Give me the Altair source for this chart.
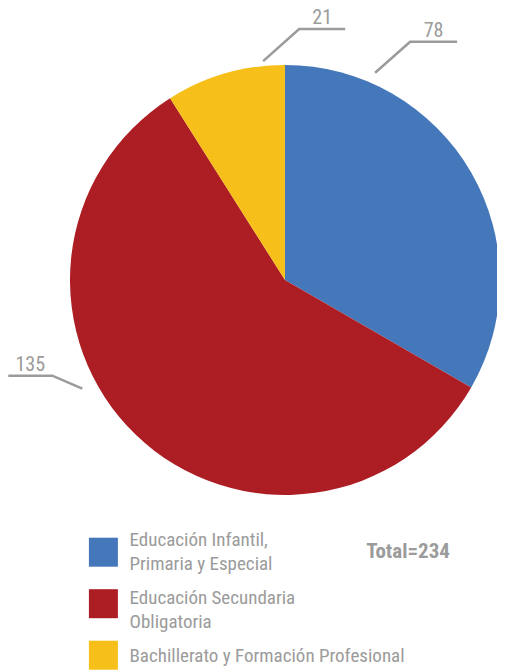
import math
import altair as alt
import pandas as pd

# ---- data ----
categories = [
    "Educación Infantil,|Primaria y Especial",
    "Educación Secundaria|Obligatoria",
    "Bachillerato y Formación Profesional",
]
values = [78, 135, 21]
colors = ["#4578BA", "#AD1E24", "#F6BF19"]

# ---- style / layout constants (chart origin at page (8, 18)) ----
FONT = "Liberation Sans Narrow, Roboto Condensed, Roboto, sans-serif"
GRAY = "#9b9b9b"
TOP = 10
CX, CY, R = 277, 272 - TOP, 215
# leader-line geometry per slice: angle (deg, clockwise from top), start radius,
# diagonal elbow offset, horizontal run
leader = {
    0: dict(a=23.5, r=226, ex=35, ey=-31, h=47),
    1: dict(a=241.8, r=230, ex=-30, ey=-13, h=-44),
    2: dict(a=354.3, r=220, ex=36, ey=-32, h=46),
}
# legend layout
LEG_SQ_X, LEG_SQ_Y0, LEG_SQ_STEP = 95.4, 534.2, 51.5
LEG_TX_X, LEG_TX_Y0, LEG_TX_STEP = 121.5, 528.2, 57.8

df = pd.DataFrame({"cat": categories, "value": values, "idx": range(len(values))})
color_scale = alt.Scale(domain=categories, range=colors)

pie = alt.Chart(df).mark_arc(outerRadius=R).encode(
    theta=alt.Theta("value:Q", stack=True),
    order=alt.Order("idx:Q"),
    color=alt.Color("cat:N", scale=color_scale, legend=None),
    x=alt.value(CX),
    y=alt.value(CY),
)

line_rows, label_rows = [], []
for i, v in enumerate(values):
    g = leader[i]
    a = math.radians(g["a"])
    sx, sy = CX + g["r"] * math.sin(a), CY - g["r"] * math.cos(a)
    ex, ey = sx + g["ex"], sy + g["ey"]
    hx = ex + g["h"]
    for k, (px, py) in enumerate([(sx, sy), (ex, ey), (hx, ey)]):
        line_rows.append({"id": i, "k": k, "px": px, "py": py})
    label_rows.append({"txt": str(v), "px": (ex + hx) / 2, "py": ey - 5})

lines = alt.Chart(pd.DataFrame(line_rows)).mark_line(color=GRAY, strokeWidth=2.5).encode(
    x=alt.X("px:Q", scale=None),
    y=alt.Y("py:Q", scale=None),
    detail="id:N",
    order="k:Q",
)

labels = alt.Chart(pd.DataFrame(label_rows)).mark_text(
    font=FONT, fontSize=20, color=GRAY, baseline="alphabetic", align="center"
).encode(
    x=alt.X("px:Q", scale=None),
    y=alt.Y("py:Q", scale=None),
    text="txt:N",
)

leg_base = alt.Chart(df).transform_calculate(
    sqy=f"{LEG_SQ_Y0} + {LEG_SQ_STEP} * datum.idx",
    txy=f"{LEG_TX_Y0} + {LEG_TX_STEP} * datum.idx",
)
leg_sq = leg_base.mark_square(size=841, opacity=1, strokeWidth=0).encode(
    x=alt.value(LEG_SQ_X),
    y=alt.Y("sqy:Q", scale=None),
    color=alt.Color("cat:N", scale=color_scale, legend=None),
)
leg_tx = leg_base.mark_text(
    font=FONT, fontSize=19, color=GRAY, align="left", baseline="alphabetic",
    lineBreak="|", lineHeight=23.5,
).encode(
    x=alt.value(LEG_TX_X),
    y=alt.Y("txy:Q", scale=None),
    text="cat:N",
)

total = alt.Chart(pd.DataFrame({"t": [f"Total={sum(values)}"]})).mark_text(
    font=FONT, fontSize=21, fontWeight="bold", color=GRAY, align="center", baseline="middle"
).encode(x=alt.value(400), y=alt.value(544 - TOP), text="t:N")

chart = alt.layer(pie, lines, labels, leg_sq, leg_tx, total).properties(
    width=489, height=680 - TOP, autosize=alt.AutoSizeParams(type="none"),
    padding={"left": 0, "top": TOP, "right": 0, "bottom": 0},
).configure_view(stroke=None)

chart.save("out.html", embed_options={"renderer": "svg", "actions": False})
